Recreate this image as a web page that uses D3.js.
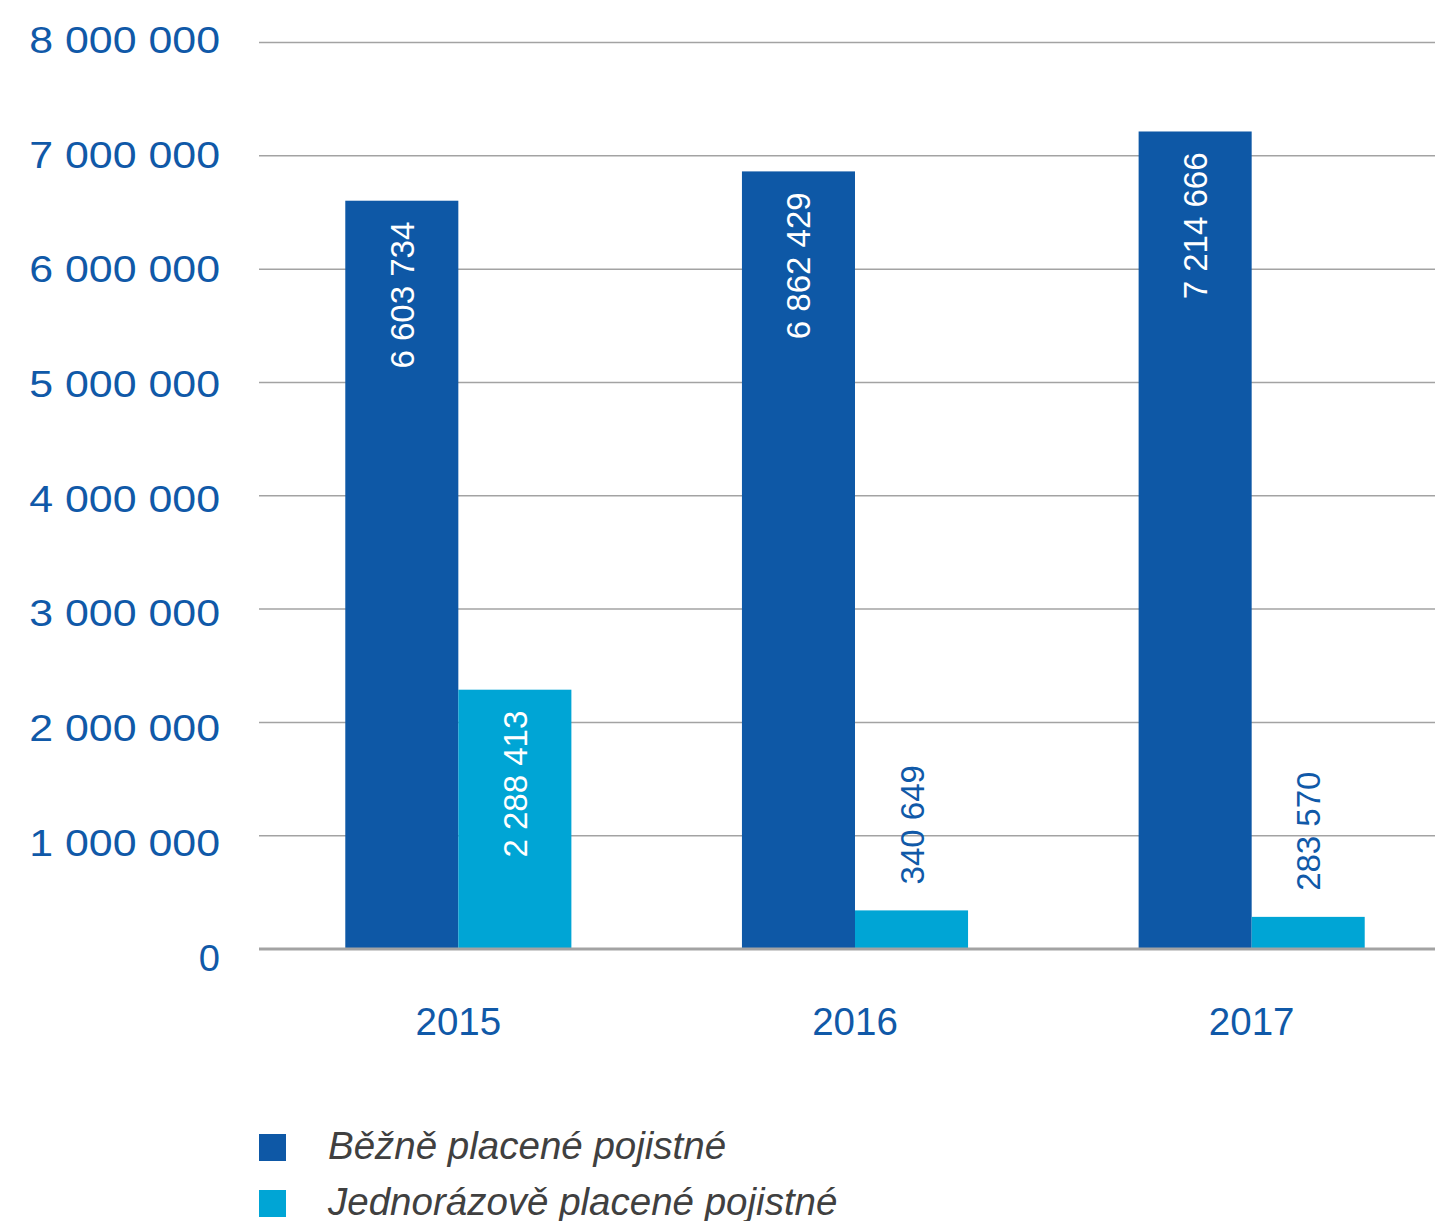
<!DOCTYPE html>
<html>
<head>
<meta charset="utf-8">
<script src="https://cdn.jsdelivr.net/npm/d3@7"></script>
<style>
  body { margin: 0; background: #fff; }
  svg { display: block; }
  .blue { fill: #1059a8; }
</style>
</head>
<body>
<div class="root"></div>
<script>
var years = ['2015', '2016', '2017'];
var seriesNames = ['Běžně placené pojistné', 'Jednorázově placené pojistné'];
var regular = [6603734, 6862429, 7214666];
var single = [2288413, 340649, 283570];
var yTicks = [0, 1000000, 2000000, 3000000, 4000000, 5000000, 6000000, 7000000, 8000000];
var colors = ['#0e58a6', '#00a5d5'];

function runChart() {
  var w = 1435, h = 1221;

  var svg = d3.select('.root').append('svg')
    .attr('width', w)
    .attr('height', h);

  var rows = years.map(function(y, i) {
    return { year: y, values: [regular[i], single[i]] };
  });

  var y = d3.scaleLinear().domain([0, 8000000]).range([949, 42.5]);
  // tick labels sit on a slightly wider spacing than the grid in the original
  var yLab = d3.scaleLinear().domain([0, 8000000]).range([957, 39.5]);

  var x0 = d3.scaleBand().domain(years).range([260, 1450])
    .paddingInner(0.43).paddingOuter(0.215);
  var x1 = d3.scaleBand().domain([0, 1]).range([0, x0.bandwidth()]);

  var fmt = function(v) { return d3.format(',')(v).replace(/,/g, ' '); };

  // grid
  svg.append('g')
    .selectAll('line')
    .data(yTicks.filter(function(d) { return d > 0; }))
    .enter().append('line')
      .attr('x1', 259).attr('x2', w)
      .attr('y1', function(d) { return y(d); })
      .attr('y2', function(d) { return y(d); })
      .attr('stroke', '#a3a3a3')
      .attr('stroke-width', 1.5);

  // y labels
  svg.append('g')
    .selectAll('text')
    .data(yTicks)
    .enter().append('text')
      .attr('class', 'blue')
      .attr('x', 220)
      .attr('y', function(d) { return yLab(d); })
      .attr('dy', '0.36em')
      .attr('text-anchor', 'end')
      .attr('font-family', 'Liberation Sans, Arial, sans-serif')
      .attr('font-size', 37.5)
      .attr('textLength', function(d) { return fmt(d).length * 21.2; })
      .attr('lengthAdjust', 'spacingAndGlyphs')
      .text(fmt);

  // bars
  var groups = svg.append('g')
    .selectAll('g')
    .data(rows)
    .enter().append('g')
      .attr('transform', function(d) { return 'translate(' + x0(d.year) + ',0)'; });

  groups.selectAll('rect')
    .data(function(d) { return d.values; })
    .enter().append('rect')
      .attr('x', function(d, i) { return x1(i); })
      .attr('y', function(d) { return y(d); })
      .attr('width', x1.bandwidth())
      .attr('height', function(d) { return y(0) - y(d); })
      .attr('fill', function(d, i) { return colors[i]; });

  groups.selectAll('text.val')
    .data(function(d) { return d.values; })
    .enter().append('text')
      .attr('class', 'val')
      .attr('transform', function(d, i) {
        var cx = x1(i) + x1.bandwidth() / 2 + 12;
        var inside = (y(0) - y(d)) > 180;
        var ty = inside ? y(d) + 21 : y(d) - 26;
        return 'translate(' + cx + ',' + ty + ') rotate(-90)';
      })
      .attr('text-anchor', function(d) { return (y(0) - y(d)) > 180 ? 'end' : 'start'; })
      .attr('fill', function(d) { return (y(0) - y(d)) > 180 ? '#ffffff' : '#1059a8'; })
      .attr('font-family', 'Liberation Sans, Arial, sans-serif')
      .attr('font-size', 33)
      .text(fmt);

  // baseline
  svg.append('line')
    .attr('x1', 259).attr('x2', w)
    .attr('y1', y(0)).attr('y2', y(0))
    .attr('stroke', '#a3a3a3')
    .attr('stroke-width', 3);

  // year labels
  svg.append('g')
    .selectAll('text')
    .data(years)
    .enter().append('text')
      .attr('class', 'blue')
      .attr('x', function(d) { return x0(d) + x0.bandwidth() / 2; })
      .attr('y', 1035)
      .attr('text-anchor', 'middle')
      .attr('font-family', 'Liberation Sans, Arial, sans-serif')
      .attr('font-size', 38.5)
      .text(function(d) { return d; });

  // legend
  var legend = svg.append('g')
    .selectAll('g')
    .data(seriesNames)
    .enter().append('g')
      .attr('transform', function(d, i) { return 'translate(259,' + (1134 + i * 56) + ')'; });

  legend.append('rect')
    .attr('width', 27).attr('height', 27)
    .attr('fill', function(d, i) { return colors[i]; });

  legend.append('text')
    .attr('x', 69)
    .attr('y', 25)
    .attr('font-family', 'Liberation Sans, Arial, sans-serif')
    .attr('font-style', 'italic')
    .attr('font-size', 38.5)
    .attr('fill', '#404040')
    .text(function(d) { return d; });
}

window.onload = function() {
  runChart();
};
</script>
</body>
</html>
